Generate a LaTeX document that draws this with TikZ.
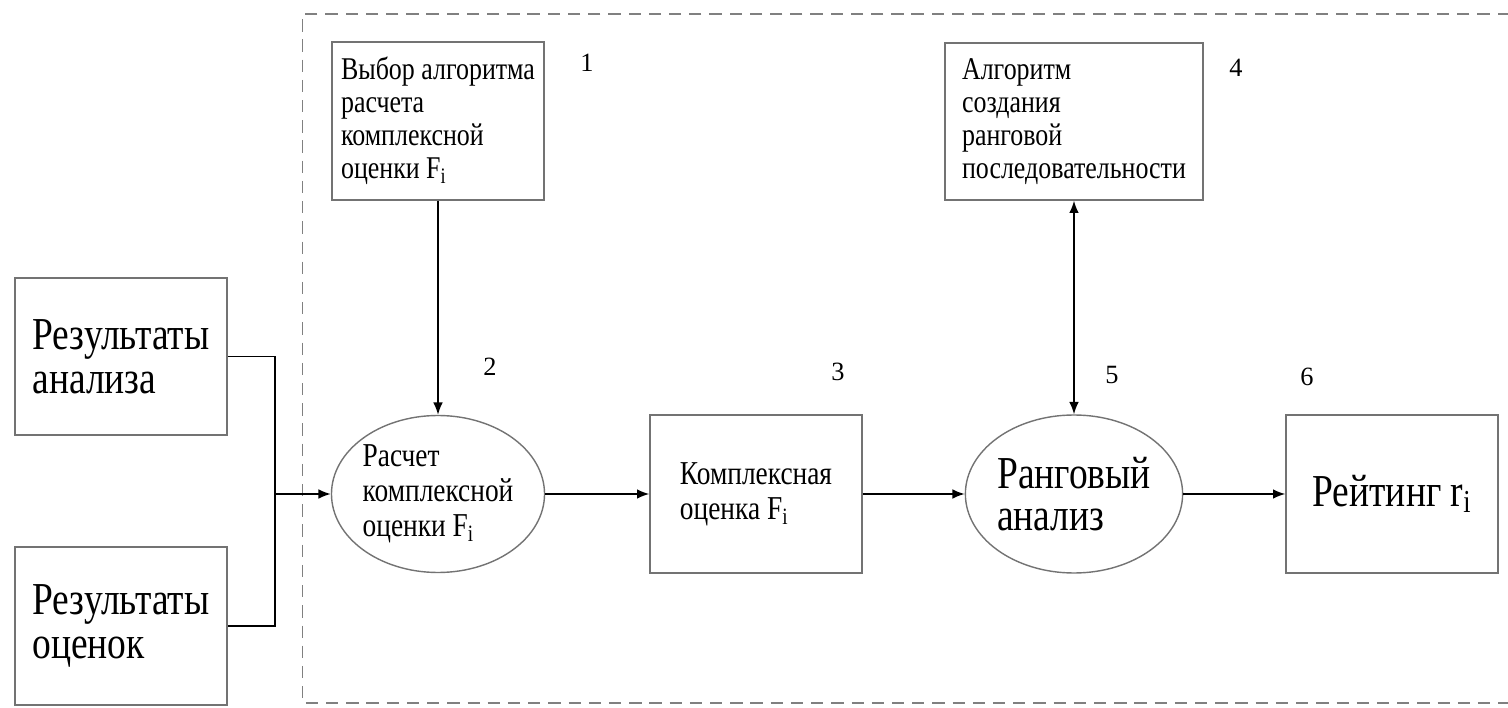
\documentclass[tikz,border=0pt]{standalone}
\usepackage{fontspec}
\setmainfont[FakeStretch=0.82]{Liberation Serif}
\newfontfamily\numfont{Liberation Serif}
\usepackage{tikz}
\usetikzlibrary{arrows.meta}
\usetikzlibrary{shapes.geometric,calc,positioning}

\newcommand{\smallfs}{\fontsize{18}{18.7}\selectfont}
\newcommand{\midfs}{\fontsize{19}{20}\selectfont}
\newcommand{\bigfs}{\fontsize{26}{25}\selectfont}
\newcommand{\rangfs}{\fontsize{26}{24}\selectfont}

\begin{document}
\begin{tikzpicture}
			\useasboundingbox (0,0) rectangle (30.16,14.14);
			% dashed frame
			\draw[black!50,line width=0.8pt,dash pattern=on 7pt off 4.5pt]
				(30.6,13.86) -- (6.05,13.86) -- (6.05,0.08) -- (30.6,0.08);

			\begin{scope}[every node/.style={draw=black!55,line width=0.8pt,align=left,inner sep=0pt}]
				\node[minimum width=4.24cm,minimum height=3.14cm,font=\bigfs] (RA) at (2.42,7.01) {Результаты\\анализа};
				\node[minimum width=4.24cm,minimum height=3.16cm,font=\bigfs] (RO) at (2.42,1.62) {Результаты\\оценок};
				\node[minimum width=4.24cm,minimum height=3.16cm,font=\smallfs] (V) at (8.76,11.72) {Выбор алгоритма\\расчета\\комплексной\\оценки F\textsubscript{i}};
				\node[minimum width=5.16cm,minimum height=3.14cm,font=\smallfs] (AL) at (21.48,11.71) {Алгоритм\\создания\\ранговой\\последовательности};
				\node[ellipse,minimum width=4.2cm,minimum height=3.14cm,font=\midfs] (P) at (8.76,4.26) {Расчет\\комплексной\\оценки F\textsubscript{i}};
				\node[minimum width=4.24cm,minimum height=3.16cm,font=\midfs] (K) at (15.12,4.26) {Комплексная\\оценка F\textsubscript{i}};
				\node[ellipse,minimum width=4.26cm,minimum height=3.16cm,font=\rangfs] (R) at (21.48,4.26) {Ранговый\\анализ};
				\node[minimum width=4.24cm,minimum height=3.16cm,font=\bigfs] (Rt) at (27.84,4.26) {Рейтинг r\textsubscript{i}};
			\end{scope}

			\begin{scope}[every node/.style={font=\numfont\fontsize{15}{15}\selectfont}]
				\node (n1) at (11.74,12.88) {1};
				\node (n2) at (9.80,6.80) {2};
				\node (n3) at (16.76,6.70) {3};
				\node (n4) at (24.72,12.78) {4};
				\node (n5) at (22.24,6.64) {5};
				\node (n6) at (26.14,6.60) {6};
			\end{scope}

			\begin{scope}[>={Latex[length=7pt,width=5.5pt]},line width=0.9pt,
				every edge/.style={draw}]
				\coordinate (J) at (5.5,4.26);
				\draw (RA.east) -| (J) |- (RO.east);
				\draw[->] (J) -- (P);
				\path[->] (V) edge (P);
				\path[<->] (AL) edge (R);
				\path[->] (P) edge (K);
				\path[->] (K) edge (R);
				\path[->] (R) edge (Rt);
			\end{scope}
		\end{tikzpicture}
\end{document}
